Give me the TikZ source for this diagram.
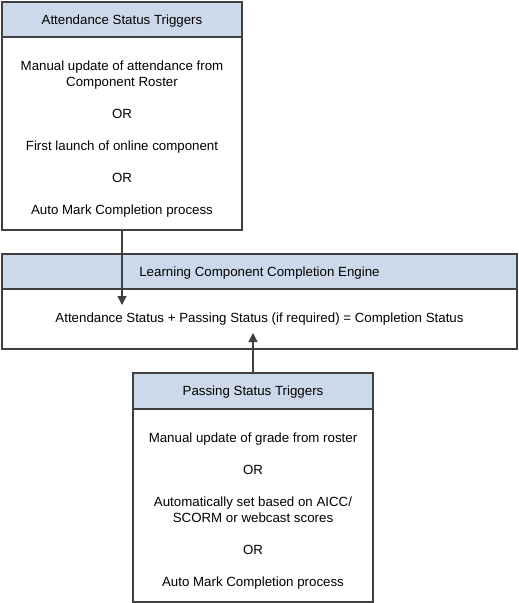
\documentclass[tikz,border=0pt]{standalone}
\usepackage{fontspec}
\setmainfont{Liberation Sans}
\usetikzlibrary{arrows.meta}
\usetikzlibrary{positioning}
\definecolor{hblue}{RGB}{204,217,234}
\definecolor{bgray}{RGB}{64,64,64}
\tikzset{head/.style = {draw=bgray, fill=hblue, line width=1.3pt, inner sep=0pt,
                        outer sep=0pt, anchor=north west, text height=12pt, text depth=3pt,
                        font=\fontsize{13.3}{16}\selectfont},
         body/.style = {draw=bgray, fill=white, line width=1.3pt, inner sep=0pt,
                        outer sep=0pt, anchor=north},
         lines/.style = {inner sep=0pt, outer sep=0pt, align=center,
                         font=\fontsize{13.3}{16}\selectfont},
         flow/.style = {draw=bgray, line width=1.3pt, -{Triangle[length=9pt, width=9pt]}}}

\begin{document}
\begin{tikzpicture}[x=1pt, y=-1pt]
      \useasboundingbox (0, 0) rectangle (519, 603);

      % attendance triggers
      \node [head, minimum width=240pt, minimum height=35pt] (atthead) at (2, 2) {Attendance Status Triggers};
      \node [body, minimum width=240pt, minimum height=193pt] (attbody) at (atthead.south) {};
      \node [lines, below=24pt of atthead.south] (atttext)
        {Manual update of attendance from\\Component Roster\\[16pt]OR\\[16pt]First launch of online component\\[16pt]OR\\[16pt]Auto Mark Completion process};

      % completion engine
      \node [head, minimum width=515pt, minimum height=35pt] (enghead) at (2, 254) {Learning Component Completion Engine};
      \node [body, minimum width=515pt, minimum height=60pt] (engbody) at (enghead.south) {};
      \node [lines] (engtext) at (engbody.center) {Attendance Status + Passing Status (if required) = Completion Status};

      % passing triggers
      \node [head, minimum width=240pt, minimum height=36pt] (passhead) at (133, 373) {Passing Status Triggers};
      \node [body, minimum width=240pt, minimum height=193pt] (passbody) at (passhead.south) {};
      \node [lines, below=24pt of passhead.south] (passtext)
        {Manual update of grade from roster\\[16pt]OR\\[16pt]Automatically set based on AICC/\\SCORM or webcast scores\\[16pt]OR\\[16pt]Auto Mark Completion process};

      \coordinate (atttip) at (122, 305);
      \coordinate (passtip) at (253, 333);
      \draw [flow] (atttip |- attbody.south) -- (atttip);
      \draw [flow] (passtip |- passhead.north) -- (passtip);
    \end{tikzpicture}
\end{document}
